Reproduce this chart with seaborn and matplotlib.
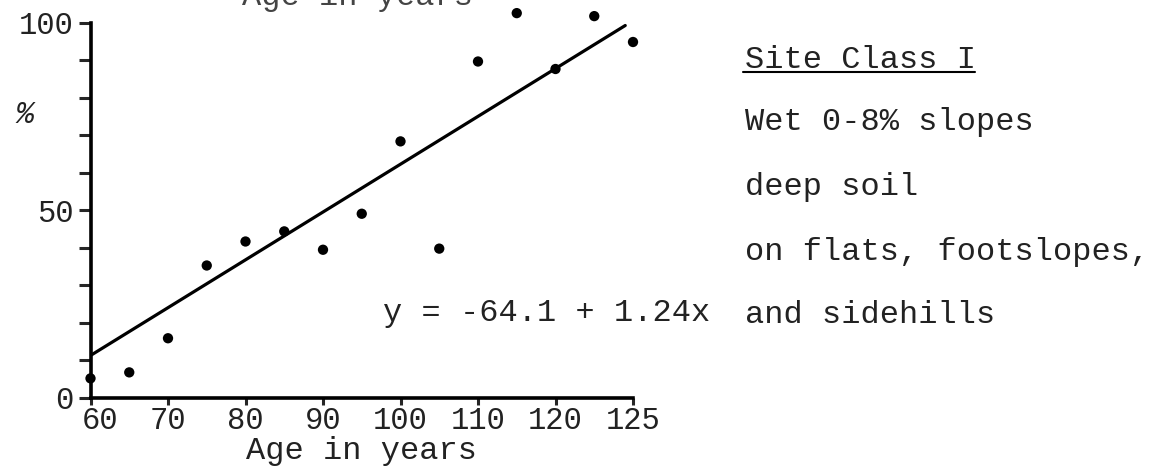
import pandas as pd
import matplotlib.pyplot as plt
import seaborn as sns
from matplotlib.lines import Line2D
from matplotlib.transforms import ScaledTranslation

# stand age (years) and percent
idade = [60, 65, 70, 75, 80, 85, 90, 95, 100, 105, 110, 115, 120, 125, 130]
percentual = [5.1, 6.7, 15.8, 35.2, 41.6, 44.3, 39.4, 49.0, 68.3, 39.7,
              89.6, 102.5, 87.6, 101.7, 94.8]

# hand drawn fitted line, end points
reta_x = [60, 129]
reta_y = [11.2, 99.2]

x_ticks = [60, 70, 80, 90, 100, 110, 120, 130]
x_labels = ["60", "70", "80", "90", "100", "110", "120", "125"]
y_ticks = [0, 10, 20, 30, 40, 50, 60, 70, 80, 90, 100]
y_labels = ["0", "", "", "", "", "50", "", "", "", "", "100"]

notas = ["Wet 0-8% slopes", "deep soil", "on flats, footslopes,", "and sidehills"]

sns.set_theme(style="ticks")
plt.rcParams["font.family"] = ["Liberation Mono", "DejaVu Sans Mono"]

W, H = 1157, 468
fig = plt.figure(figsize=(W / 100, H / 100), dpi=100)
ax = fig.add_axes([90.5 / W, 1 - 397.5 / H, (633 - 90.5) / W, 375 / H])

df = pd.DataFrame({"idade": idade, "percentual": percentual})
sns.scatterplot(data=df, x="idade", y="percentual", ax=ax, color="black",
                s=55, edgecolor="none", clip_on=False, zorder=3)
sns.lineplot(x=reta_x, y=reta_y, ax=ax, color="black", linewidth=2.3)

ax.set_xlim(60, 130)
ax.set_ylim(0, 100)
ax.set_xticks(x_ticks)
ax.set_xticklabels(x_labels, fontsize=22, color="#222222")
ax.set_yticks(y_ticks)
ax.set_yticklabels(y_labels, fontsize=22, color="#222222")
ax.tick_params(axis="y", length=9, width=2.2, pad=3)
ax.tick_params(axis="x", length=5, width=2.2, pad=1)
# the "60" sits a little right of its tick, like a subscript to "0"
lbl60 = ax.get_xticklabels()[0]
lbl60.set_transform(lbl60.get_transform() + ScaledTranslation(0.09, 0, fig.dpi_scale_trans))

for lado in ["top", "right"]:
    ax.spines[lado].set_visible(False)
for lado in ["left", "bottom"]:
    ax.spines[lado].set_linewidth(2.6)
    ax.spines[lado].set_color("black")

ax.set_xlabel("Age in years", fontsize=23, color="#222222", labelpad=0)
ax.set_ylabel("")
fig.text(25 / W, 1 - 115 / H, "%", fontsize=22, style="italic",
         ha="center", va="center", color="#222222")

# label of the figure above, cut at the top edge
fig.text(357 / W, 1 - 5 / H, "Age in years", fontsize=23, ha="center",
         va="baseline", color="#444444")

fig.text(383 / W, 1 - 313 / H, "y = -64.1 + 1.24x", fontsize=23,
         ha="left", va="center", color="#222222")

fig.text(745 / W, 1 - 60 / H, "Site Class I", fontsize=23, ha="left",
         va="center", color="#222222")
fig.add_artist(Line2D([743 / W, 975 / W], [1 - 72 / H, 1 - 72 / H],
                      transform=fig.transFigure, color="black", linewidth=1.5))
for y_px, nota in zip([122, 187, 252, 315], notas):
    fig.text(745 / W, 1 - y_px / H, nota, fontsize=23, ha="left",
             va="center", color="#222222")

fig.savefig("out.png", dpi=100, facecolor="white")
